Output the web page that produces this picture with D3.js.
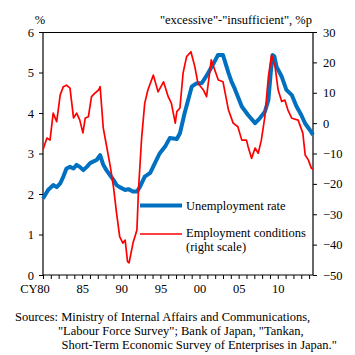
<!DOCTYPE html>
<html><head><meta charset="utf-8">
<script src="https://cdn.jsdelivr.net/npm/d3@7"></script>
<style>
html,body{margin:0;padding:0;background:#fff;}
svg{display:block;}
text{font-family:"Liberation Serif","Times New Roman",serif;font-size:12.5px;fill:#000;}
</style></head>
<body>
<script>
// ---- data ----
const unempYears = [1980.0,1980.65,1981.3,1981.75,1982.2,1982.6,1983.0,1983.45,1983.9,1984.3,1984.7,1985.15,1985.6,1986.0,1986.4,1986.85,1987.3,1987.7,1988.1,1988.55,1989.0,1989.4,1989.8,1990.5,1990.9,1991.5,1992.0,1992.4,1993.0,1993.7,1994.3,1994.9,1995.6,1996.2,1997.1,1997.5,1998.1,1998.55,1999.0,1999.6,2000.3,2000.7,2001.1,2001.7,2002.35,2002.8,2003.0,2003.7,2004.1,2004.5,2005.4,2006.2,2007.1,2007.7,2008.35,2008.8,2009.1,2009.35,2009.55,2009.85,2010.5,2011.1,2011.8,2012.4,2013.0,2013.5,2014.1,2014.5];
const unempRate  = [1.89,2.1,2.22,2.17,2.26,2.43,2.63,2.67,2.63,2.72,2.67,2.59,2.67,2.76,2.8,2.84,2.96,2.72,2.59,2.47,2.35,2.22,2.17,2.1,2.12,2.06,2.06,2.18,2.43,2.52,2.76,3.0,3.17,3.38,3.36,3.5,4.0,4.32,4.65,4.73,4.74,4.86,4.99,5.19,5.43,5.43,5.43,4.99,4.77,4.6,4.16,3.95,3.75,3.87,4.03,4.32,5.0,5.43,5.4,5.14,4.9,4.57,4.44,4.16,3.95,3.74,3.58,3.46];

const empYears = [1980.0,1980.5,1980.9,1981.3,1981.75,1982.2,1982.6,1983.0,1983.45,1983.9,1984.3,1984.7,1985.1,1985.4,1985.8,1986.2,1986.6,1987.1,1987.3,1987.7,1988.1,1988.6,1989.0,1989.4,1989.8,1990.2,1990.5,1990.8,1991.0,1991.5,1992.0,1992.2,1992.6,1993.0,1993.4,1994.1,1994.7,1995.4,1996.0,1996.4,1996.9,1997.1,1997.5,1997.9,1998.35,1998.9,1999.4,1999.8,2000.5,2000.9,2001.5,2002.4,2003.0,2003.7,2004.3,2004.9,2005.4,2006.0,2006.2,2006.65,2007.1,2007.5,2007.9,2008.35,2008.8,2009.2,2009.65,2010.05,2010.5,2010.9,2011.3,2011.8,2012.6,2013.2,2013.5,2013.9,2014.3,2014.5];
const empDI      = [-8.8,-4.9,-5.6,3.3,0.5,9.3,12.0,12.5,11.5,1.7,3.3,1.0,-3.2,1.7,2.1,8.7,9.8,10.9,12.0,-1.6,-7.2,-14.3,-20.9,-29.6,-37.4,-39.5,-38.5,-45.6,-46,-39.5,-35.2,-22,-5,6.6,10.9,15.8,10.3,13.6,8.7,6.6,0,3.8,5,16.5,21.9,23.5,18.6,13.1,10.9,8.7,20.8,14.2,13.6,4.3,0,-1.2,-5.6,-5.6,-7.7,-11.6,-8.2,-9.9,-5.6,2.1,15.3,22.4,18.6,10.9,7.1,7.6,4.3,1.6,1.0,-3.3,-10.5,-12.1,-14.9,-15.2];

const leftTicks  = [0,1,2,3,4,5,6];
const rightTicks = [-50,-40,-30,-20,-10,0,10,20,30];
const xLabelYears = [1980,1985,1990,1995,2000,2005,2010];
const xLabelText  = ["80","85","90","95","00","05","10"];
const sourceLines = ["Sources: Ministry of Internal Affairs and Communications,",
                     "\"Labour Force Survey\"; Bank of Japan, \"Tankan,",
                     "Short-Term Economic Survey of Enterprises in Japan.\""];

// ---- layout ----
const W = 355, H = 355;
const L = 43, R = 313, T = 32, B = 275;
const svg = d3.select("body").append("svg").attr("width", W).attr("height", H);

const x = d3.scaleLinear().domain([1980, 2014.5]).range([L, R]);
const yL = d3.scaleLinear().domain([0, 6]).range([B, T]);
const yR = d3.scaleLinear().domain([-50, 30]).range([B, T]);

// frame top line
svg.append("line").attr("x1", L).attr("x2", R).attr("y1", T+0.5).attr("y2", T+0.5)
  .attr("stroke", "#000").attr("stroke-width", 1);

// left axis
const gL = svg.append("g").attr("transform", `translate(${L},0)`)
  .call(d3.axisLeft(yL).tickValues(leftTicks).tickSize(4).tickPadding(5).tickFormat(d3.format("d")));
// right axis
const gR = svg.append("g").attr("transform", `translate(${R},0)`)
  .call(d3.axisRight(yR).tickValues(rightTicks).tickSize(4).tickPadding(6).tickFormat(d3.format("d")));
// bottom axis (ticks each year)
const gB = svg.append("g").attr("transform", `translate(0,${B})`)
  .call(d3.axisBottom(x).tickValues(d3.range(1980, 2015)).tickSize(4).tickFormat(""));
[gL, gR, gB].forEach(g => {
  g.selectAll("path.domain").attr("stroke", "#000").attr("stroke-width", 1.2);
  g.selectAll(".tick line").attr("stroke", "#000");
  g.selectAll("text").attr("font-family", "Liberation Serif, serif").attr("font-size", 12.5).attr("fill", "#000");
});
gL.selectAll("path.domain").attr("d", `M0,${B}V${T}`);
gR.selectAll("path.domain").attr("d", `M0,${B}V${T}`);
gB.selectAll("path.domain").attr("d", `M${L},0H${R}`);

// x labels
svg.append("g").selectAll("text").data(xLabelYears).join("text")
  .attr("x", d => x(d) + 0.5).attr("y", 293).attr("text-anchor", "middle")
  .text((d, i) => xLabelText[i]);
svg.append("text").attr("x", x(1980) - 5.5).attr("y", 293).attr("text-anchor", "end").text("CY");

// axis titles
svg.append("text").attr("x", 40).attr("y", 24).attr("text-anchor", "middle").text("%");
svg.append("text").attr("x", 312).attr("y", 24).attr("text-anchor", "end")
  .text("\"excessive\"-\"insufficient\", %p");

// lines
const lineL = d3.line().x(d => x(d[0])).y(d => yL(d[1]));
const lineR = d3.line().x(d => x(d[0])).y(d => yR(d[1]));
svg.append("path").datum(d3.zip(unempYears, unempRate)).attr("d", lineL)
  .attr("fill", "none").attr("stroke", "#0070C0").attr("stroke-width", 4).attr("stroke-linejoin", "round");
svg.append("path").datum(d3.zip(empYears, empDI)).attr("d", lineR)
  .attr("fill", "none").attr("stroke", "#FF0000").attr("stroke-width", 1.7).attr("stroke-linejoin", "round");

// legend
svg.append("line").attr("x1", 140).attr("x2", 182).attr("y1", 205.5).attr("y2", 205.5)
  .attr("stroke", "#0070C0").attr("stroke-width", 4);
svg.append("text").attr("x", 186).attr("y", 209.5).text("Unemployment rate");
svg.append("line").attr("x1", 140).attr("x2", 182).attr("y1", 234).attr("y2", 234)
  .attr("stroke", "#FF0000").attr("stroke-width", 1.7);
svg.append("text").attr("x", 186).attr("y", 237).text("Employment conditions");
svg.append("text").attr("x", 186).attr("y", 251).text("(right scale)");

// sources
const srcX = [15, 58, 61.5], srcY = [321, 335, 349];
svg.append("g").selectAll("text").data(sourceLines).join("text")
  .attr("x", (d, i) => srcX[i]).attr("y", (d, i) => srcY[i]).text(d => d);
</script>
</body></html>
